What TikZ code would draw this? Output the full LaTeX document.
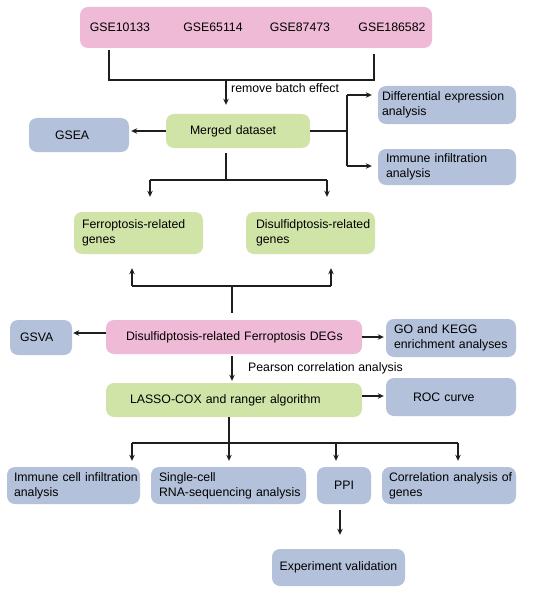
\documentclass[tikz,border=0pt]{standalone}
\usepackage{fontspec}
\setmainfont{Liberation Sans}
\usetikzlibrary{arrows.meta}
\definecolor{pinkc}{HTML}{EFBAD6}
\definecolor{greenc}{HTML}{D0E4A8}
\definecolor{bluec}{HTML}{B3C1DA}
\definecolor{linec}{HTML}{1E1E1E}
\begin{document}
\begin{tikzpicture}[x=1pt,y=-1pt,
  font=\fontsize{12.3}{15}\selectfont,
  box/.style={rounded corners=8pt, inner ysep=2pt, text=black},
  pinkbox/.style={box, fill=pinkc},
  greenbox/.style={box, fill=greenc},
  bluebox/.style={box, fill=bluec},
  lbox/.style={align=left},
  cbox/.style={align=center},
  ln/.style={draw=linec, line width=1.1pt},
  arr/.style={ln, -{Stealth[length=6pt,width=5.5pt]}},
  lbl/.style={anchor=west, inner sep=0pt}]
\fill[white] (0,0) rectangle (550,591);
\useasboundingbox (0,0) rectangle (550,591);

% top
\node[pinkbox, minimum width=352pt, minimum height=41pt] (top) at (256,27.5) {};
\node (g1) at (120,27.5) {GSE10133};
\node (g2) at (213,27.5) {GSE65114};
\node (g3) at (300,27.5) {GSE87473};
\node (g4) at (392,27.5) {GSE186582};

\node[greenbox, lbox, inner xsep=24pt, text width=96pt, minimum height=34pt] (merged) at (238,131) {Merged dataset};
\node[bluebox, lbox, inner xsep=26pt, text width=48pt, minimum height=34pt] (gsea) at (79,135) {GSEA};
\node[bluebox, lbox, inner xsep=4pt, text width=130pt, minimum height=38pt] (diff) at (447,105) {\mbox{Differential expression}\\analysis};
\node[bluebox, lbox, inner xsep=8pt, text width=122pt, minimum height=36pt] (immune) at (447,167) {\mbox{Immune infiltration}\\analysis};

\node[greenbox, lbox, inner xsep=8pt, text width=113pt, minimum height=42pt] (ferro) at (138.5,233) {\mbox{Ferroptosis-related}\\genes};
\node[greenbox, lbox, inner xsep=10pt, text width=109pt, minimum height=42pt] (disulf) at (310.5,233) {\mbox{Disulfidptosis-related}\\genes};

\node[pinkbox, lbox, inner xsep=20pt, text width=216pt, minimum height=34pt] (degs) at (234,337) {\mbox{Disulfidptosis-related Ferroptosis DEGs}};
\node[bluebox, lbox, inner xsep=10pt, text width=42pt, minimum height=35pt] (gsva) at (41,337.5) {GSVA};
\node[bluebox, lbox, inner xsep=8pt, text width=114pt, minimum height=38pt] (gokegg) at (451,338) {\mbox{GO and KEGG}\\\mbox{enrichment analyses}};

\node[greenbox, lbox, inner xsep=24pt, text width=208pt, minimum height=34pt] (lasso) at (234,400) {\mbox{LASSO-COX and ranger algorithm}};
\node[bluebox, lbox, inner xsep=27pt, text width=76pt, minimum height=38pt] (roc) at (451,397) {ROC curve};

\node[bluebox, lbox, inner xsep=7pt, text width=119pt, minimum height=37pt] (icell) at (73.5,485.5) {\mbox{Immune cell infiltration}\\analysis};
\node[bluebox, lbox, inner xsep=8pt, text width=139pt, minimum height=37pt] (single) at (228.5,485.5) {\mbox{Single-cell}\\\mbox{RNA-sequencing analysis}};
\node[bluebox, cbox, minimum width=54pt, minimum height=37pt] (ppi) at (344,485.5) {PPI};
\node[bluebox, lbox, inner xsep=7pt, text width=120pt, minimum height=37pt] (corr) at (449,485.5) {\mbox{Correlation analysis of}\\genes};
\node[bluebox, cbox, minimum width=133pt, minimum height=37pt] (exp) at (338.5,567.5) {Experiment validation};

% connectors: top -> merged
\coordinate (jl) at (109,80);
\coordinate (jr) at (374,80);
\coordinate (jc) at (226,80);
\draw[ln] ([yshift=-2pt]top.south -| jl) -- (jl) -- (jr) -- ([yshift=-6pt]top.south -| jr);
\draw[arr, shorten >=9pt] (jc) -- (merged.north -| jc);
\node[lbl] (rbe) at (231,88) {remove batch effect};

% merged -> gsea / right
\draw[arr, shorten >=2pt] (merged.west) -- (gsea.east |- merged.west);
\coordinate (mr) at (347,131);
\coordinate (mrt) at (347,95);
\coordinate (mrb) at (347,166);
\draw[ln] (merged.east) -- (mr);
\draw[ln] (mrt) -- (mrb);
\draw[arr, shorten >=6pt] (mrt) -- (diff.west |- mrt);
\draw[arr, shorten >=6pt] (mrb) -- (immune.west |- mrb);

% merged -> gene sets
\coordinate (ms) at (226,180);
\coordinate (fl) at (150,180);
\coordinate (fr) at (327,180);
\draw[ln, shorten <=5pt] (merged.south -| ms) -- (ms);
\draw[ln] (fl) -- (fr);
\draw[arr, shorten >=15pt] (fl) -- (ferro.north -| fl);
\draw[arr, shorten >=15pt] (fr) -- (disulf.north -| fr);

% degs -> gene sets
\coordinate (du) at (232,286);
\coordinate (dl) at (132,286);
\coordinate (dr) at (331,286);
\draw[ln, shorten <=7pt] (degs.north -| du) -- (du);
\draw[ln] (dl) -- (dr);
\draw[arr, shorten >=14pt] (dl) -- (ferro.south -| dl);
\draw[arr, shorten >=14pt] (dr) -- (disulf.south -| dr);

% degs -> side / lasso
\coordinate (dw) at (106,333);
\draw[arr, shorten >=1pt] (dw) -- (gsva.east |- dw);
\draw[arr, shorten >=2pt] (degs.east) -- (gokegg.west |- degs.east);
\coordinate (dd) at (232,337);
\draw[arr, shorten <=2pt, shorten >=2pt] (degs.south -| dd) -- (lasso.north -| dd);
\node[lbl] (pca) at (248,368) {Pearson correlation analysis};

\coordinate (le) at (362,396);
\draw[arr, shorten >=2pt] (le) -- (roc.west |- le);

% lasso -> bottom row
\coordinate (lb) at (229,443);
\coordinate (b1) at (132,443);
\coordinate (b3) at (336,443);
\coordinate (b4) at (458,443);
\draw[ln] (lasso.south -| lb) -- (lb);
\draw[ln] (b1) -- (b4);
\draw[arr, shorten >=6pt] (b1) -- (icell.north -| b1);
\draw[arr, shorten >=6pt] (lb) -- (single.north -| lb);
\draw[arr, shorten >=6pt] (b3) -- (ppi.north -| b3);
\draw[arr, shorten >=6pt] (b4) -- (corr.north -| b4);

\coordinate (pp) at (340,500);
\draw[arr, shorten <=6pt, shorten >=14pt] (ppi.south -| pp) -- (exp.north -| pp);
\end{tikzpicture}
\end{document}
